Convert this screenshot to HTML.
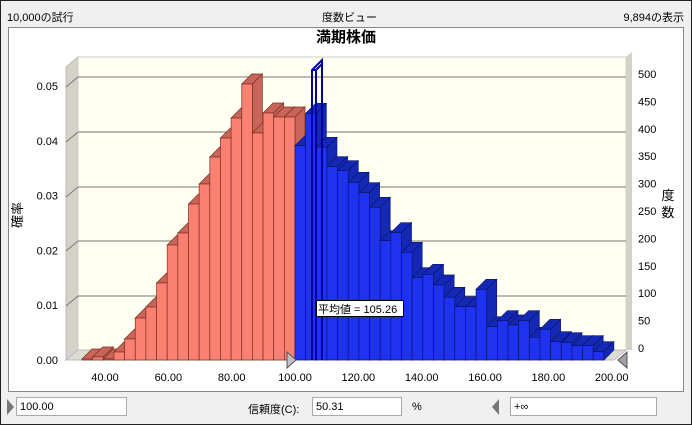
<!DOCTYPE html>
<html><head><meta charset="utf-8"><style>
body{margin:0;width:692px;height:425px;overflow:hidden;background:#f0f0f0;font-family:"Liberation Sans","Noto Sans CJK JP",sans-serif;}
.wrap{position:absolute;left:0;top:0;width:690px;height:423px;border:1px solid #222;background:#f0f0f0;}
.t{position:absolute;font-size:11px;color:#000;}
.inp{position:absolute;height:19px;border:1px solid #aaa;background:#fff;font-size:11px;line-height:19px;padding-left:3px;box-sizing:border-box;}
</style></head><body>
<div class="wrap"></div>
<div class="t" style="left:7px;top:9px">10,000の試行</div>
<div class="t" style="left:322px;top:9px">度数ビュー</div>
<div class="t" style="right:8px;top:9px">9,894の表示</div>
<svg style="position:absolute;left:0;top:0" width="692" height="425" id="s">
<rect x="8.5" y="27.5" width="675" height="364" fill="#fff" stroke="#888"/>
<text x="346" y="42" font-size="15" font-weight="bold" text-anchor="middle" font-family="Liberation Sans,Noto Sans CJK JP,sans-serif">満期株価</text>
<polygon points="66,67 78,57 78,350 66,360" fill="#d4d2c8" stroke="#bbb"/>
<rect x="78" y="57" width="548" height="293" fill="#fffff2" stroke="#ccc"/>
<polygon points="66,360 78,350 626,350 614,360" fill="#dedcd2" stroke="#bbb"/>
<polygon points="626,57 632,52 632,350 626,350" fill="#d4d2c8"/>
<g id="grid" stroke="#777" stroke-width="1"></g>
<g id="bars"></g>
<g id="lab" font-size="11" font-family="Liberation Sans,sans-serif"></g>
<path d="M312,360 L312,70 L322,60 L322,360 M312,70 L316,70 L316,360 M316,70 L322,64" fill="none" stroke="#0000a0" stroke-width="2"/>
<rect x="316.5" y="300.5" width="87" height="16" fill="#fff" stroke="#000"/>
<text x="318" y="313" font-size="11" font-family="Liberation Sans,Noto Sans CJK JP,sans-serif">平均値 = 105.26</text>
<polygon points="287,352 296,360 287,368" fill="#c0c0c8" stroke="#555"/>
<polygon points="627,352 618,360 627,368" fill="#a0a0a8" stroke="#555"/>
<text transform="translate(22,215) rotate(-90)" font-size="13" text-anchor="middle" font-family="Noto Sans CJK JP,sans-serif">確率</text>
<text x="668" y="200" font-size="13" text-anchor="middle" font-family="Noto Sans CJK JP,sans-serif">度</text>
<text x="668" y="217" font-size="13" text-anchor="middle" font-family="Noto Sans CJK JP,sans-serif">数</text>
<polygon points="7,399 14,407 7,415" fill="#777"/>
<polygon points="499,399 492,407 499,415" fill="#777"/>
</svg>
<div class="inp" style="left:16px;top:397px;width:111px">100.00</div>
<div class="t" style="left:248px;top:401px">信頼度(C):</div>
<div class="inp" style="left:312px;top:397px;width:90px">50.31</div>
<div class="t" style="left:412px;top:401px">%</div>
<div class="inp" style="left:510px;top:397px;width:147px">+∞</div>
<script>
var NS="http://www.w3.org/2000/svg";
function el(p,t,a,txt){var e=document.createElementNS(NS,t);for(var k in a)e.setAttribute(k,a[k]);if(txt!=null)e.textContent=txt;document.getElementById(p).appendChild(e);return e;}
[77,132,187,241,296].forEach(function(y){el("grid","line",{x1:78,y1:y,x2:626,y2:y});el("grid","line",{x1:66,y1:y+10,x2:78,y2:y});});
var red=[359,357,359,352,339,318,307,283,245,233,204,184,157,138,118,84,133,113,117,117];
var blue=[287,190,292,350,362,397,428,472,572,548,607,683,673,705,742,770,770,718,830,812,825,812,862,838,875,878,887,887,905].map(function(v){return v/3+50;});
var w=10.65,d=10,x=82;
function bar(y,f,s,o){
el("bars","polygon",{points:[x,y,x+d,y-d,x+w+d,y-d,x+w,y].join(","),fill:s,stroke:o,"stroke-width":0.7});
el("bars","polygon",{points:[x+w,y,x+w+d,y-d,x+w+d,350,x+w,360].join(","),fill:s,stroke:o,"stroke-width":0.7});
el("bars","rect",{x:x,y:y,width:w,height:360-y,fill:f,stroke:o,"stroke-width":0.7});
x+=w;}
red.forEach(function(y){bar(y,"#fa8072","#c8645a","#7a3020");});
blue.forEach(function(y){bar(y,"#1e32f0","#1428b4","#0a1470");});
["0.00","0.01","0.02","0.03","0.04","0.05"].forEach(function(t,i){el("lab","text",{x:58,y:364-i*54.8,"text-anchor":"end"},t);});
for(var i=0;i<=10;i++)el("lab","text",{x:638,y:352-i*27.4},String(i*50));
for(var v=40;v<=200;v+=20)el("lab","text",{x:105+(v-40)*3.167,y:381,"text-anchor":"middle"},v.toFixed(2));
</script>
</body></html>
